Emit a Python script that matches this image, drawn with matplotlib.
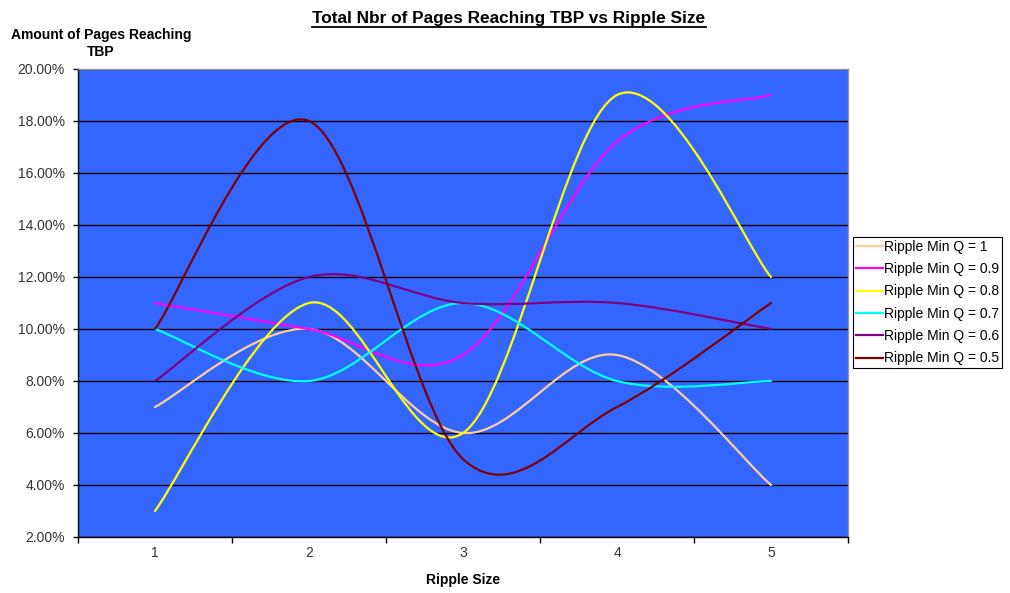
import numpy as np
import matplotlib
matplotlib.use("Agg")
import matplotlib.pyplot as plt
from matplotlib.path import Path
from matplotlib.patches import PathPatch
from matplotlib.lines import Line2D
from matplotlib.ticker import FuncFormatter, FixedLocator

plt.rcParams['font.family'] = ['Liberation Sans', 'DejaVu Sans']

# Ripple size categories
ripple_size = [1, 2, 3, 4, 5]

# Share of pages reaching TBP (%) per minimum ripple quality
q_1_0 = [7.0, 10.0, 6.0, 9.0, 4.0]
q_0_9 = [11.0, 10.0, 9.0, 17.2, 19.0]
q_0_8 = [3.0, 11.0, 6.0, 19.0, 12.0]
q_0_7 = [10.0, 8.0, 11.0, 8.0, 8.0]
q_0_6 = [8.0, 12.0, 11.0, 11.0, 10.0]
q_0_5 = [10.0, 18.0, 5.0, 7.0, 11.0]

series_labels = ["Ripple Min Q = 1", "Ripple Min Q = 0.9", "Ripple Min Q = 0.8",
                 "Ripple Min Q = 0.7", "Ripple Min Q = 0.6", "Ripple Min Q = 0.5"]
series_values = [q_1_0, q_0_9, q_0_8, q_0_7, q_0_6, q_0_5]
series_colors = ["#FFCC99", "#FF00FF", "#FFFF00", "#00FFFF", "#800080", "#800000"]


def smooth_path(xs, ys):
    """Catmull-Rom style cubic Bezier path through every point."""
    pts = np.column_stack([xs, ys]).astype(float)
    n = len(pts)
    verts = [pts[0]]
    codes = [Path.MOVETO]
    for i in range(n - 1):
        p0 = pts[i - 1] if i > 0 else pts[i]
        p1 = pts[i]
        p2 = pts[i + 1]
        p3 = pts[i + 2] if i + 2 < n else pts[i + 1]
        c1 = p1 + (p2 - p0) / 6.0
        c2 = p2 - (p3 - p1) / 6.0
        verts += [c1, c2, p2]
        codes += [Path.CURVE4] * 3
    return Path(verts, codes)


fig = plt.figure(figsize=(10.10, 5.93), dpi=100)
ax = fig.add_axes([78 / 1010, 56 / 593, 770 / 1010, 468 / 593])
ax.set_facecolor("#3366FF")

for vals, col in zip(series_values, series_colors):
    patch = PathPatch(smooth_path(ripple_size, vals), facecolor="none",
                      edgecolor=col, lw=1.6, zorder=3, capstyle="round")
    ax.add_patch(patch)

ax.set_xlim(0.5, 5.5)
ax.set_ylim(2, 20)

ax.yaxis.set_major_locator(FixedLocator(np.arange(2, 20.01, 2)))
ax.yaxis.set_major_formatter(FuncFormatter(lambda v, p: f"{v:.2f}%"))
ax.grid(axis="y", color="black", lw=1.0, zorder=1)
ax.set_axisbelow(True)

# category labels centred, tick marks between categories
ax.set_xticks(ripple_size)
ax.set_xticklabels([str(v) for v in ripple_size])
ax.set_xticks(np.arange(0.5, 5.51, 1.0), minor=True)
ax.tick_params(axis="x", which="major", length=0, pad=6.5, labelsize=10, colors="#333333")
ax.tick_params(axis="x", which="minor", length=4, width=1, direction="out", color="black")
ax.tick_params(axis="y", which="major", length=3.5, width=1, direction="out",
               labelsize=10, colors="#333333", pad=6)
ax.tick_params(axis="y", which="major", color="black")

for side in ("top", "right"):
    ax.spines[side].set_color("#999999")
    ax.spines[side].set_linewidth(1.0)
for side in ("left", "bottom"):
    ax.spines[side].set_color("black")
    ax.spines[side].set_linewidth(1.0)

# axis titles
fig.text(101 / 1010, 1 - 35 / 593, "Amount of Pages Reaching", ha="center", va="center",
         fontsize=10, fontweight="bold")
fig.text(101 / 1010, 1 - 52 / 593, "TBP", ha="center", va="center",
         fontsize=10, fontweight="bold")
fig.text(463 / 1010, 1 - 580 / 593, "Ripple Size", ha="center", va="center",
         fontsize=10, fontweight="bold")

# underlined chart title
title = fig.text(509 / 1010, 1 - 18 / 593, "Total Nbr of Pages Reaching TBP vs Ripple Size",
                 ha="center", va="center", fontsize=12.4, fontweight="bold")
fig.canvas.draw()
bb = title.get_window_extent(renderer=fig.canvas.get_renderer())
uy = (bb.y0 - 1.5) / fig.bbox.height
fig.add_artist(Line2D([bb.x0 / fig.bbox.width, bb.x1 / fig.bbox.width], [uy, uy],
                      transform=fig.transFigure, color="black", lw=1.3))

handles = [Line2D([], [], color=c, lw=1.6) for c in series_colors]
leg = fig.legend(handles, series_labels, loc="upper left",
                 bbox_to_anchor=(853 / 1010, 1 - 237 / 593), fontsize=10,
                 frameon=True, fancybox=False, edgecolor="black", framealpha=1,
                 handlelength=1.95, handletextpad=0.1, borderpad=0.2,
                 labelspacing=0.6, borderaxespad=0)
leg.get_frame().set_linewidth(0.8)

fig.savefig("out.png", dpi=100)
